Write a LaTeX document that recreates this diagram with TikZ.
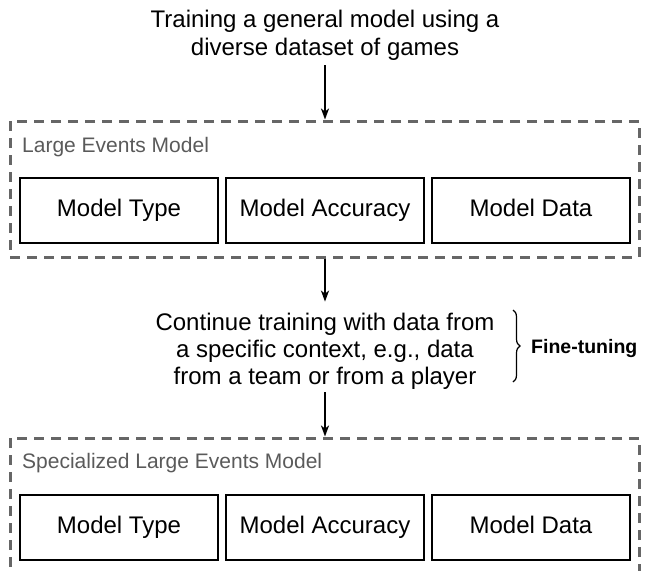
\documentclass[tikz,border=0pt]{standalone}
\usepackage{fontspec}
\setmainfont{Liberation Sans}
\usetikzlibrary{arrows.meta,decorations.pathreplacing}
\definecolor{dashgray}{HTML}{666666}
\definecolor{labelgray}{HTML}{5A5A5A}
\begin{document}
\begin{tikzpicture}[x=1pt,y=-1pt,
 outerbox/.style={draw=dashgray, line width=3pt, dash pattern=on 10pt off 7pt, minimum width=629pt, minimum height=136pt, inner sep=0pt},
 innerbox/.style={draw=black, line width=1.8pt, minimum width=198pt, minimum height=65pt, inner sep=0pt, text height=17pt, text depth=5pt, font=\fontsize{24}{28}\selectfont},
 grouplabel/.style={text=labelgray, font=\fontsize{21}{25}\selectfont, anchor=west, inner sep=0pt},
 stepnote/.style={align=center, inner sep=0pt},
 arr/.style={line width=1.8pt, -{Stealth[length=11pt,width=8pt,inset=3pt]}},
 bracestyle/.style={decorate, decoration={brace, amplitude=7pt}, line width=1.2pt}
]
\useasboundingbox (0,0) rectangle (649,571);
% top text
\node[stepnote, font=\fontsize{24}{28}\selectfont] (train) at (325,35) {Training a general model using a\\diverse dataset of games};
% first group
\node[outerbox] (lem) at (324.5,189) {};
\node[grouplabel] (lemlabel) at (22,147) {Large Events Model};
\node[innerbox] (t1) at (119,210.5) {Model Type};
\node[innerbox] (a1) at (325,210.5) {Model Accuracy};
\node[innerbox] (d1) at (531,210.5) {Model Data};
% middle text
\node[stepnote, font=\fontsize{24}{27}\selectfont] (cont) at (325,351) {Continue training with data from\\a specific context, e.g., data\\from a team or from a player};
\coordinate (bt) at (513,310);
\coordinate (bb) at (513,382);
\draw[bracestyle] (bt) -- (bb);
\node[font=\bfseries\fontsize{19.5}{23}\selectfont, anchor=west, inner sep=0pt] (ft) at (531,348) {Fine-tuning};
% second group
\node[outerbox] (slem) at (324.5,506) {};
\node[grouplabel] (slemlabel) at (22,463) {Specialized Large Events Model};
\node[innerbox] (t2) at (119,527.5) {Model Type};
\node[innerbox] (a2) at (325,527.5) {Model Accuracy};
\node[innerbox] (d2) at (531,527.5) {Model Data};
% arrows
\draw[arr, shorten <=5pt] (train.south) -- (train.south |- lem.north);
\draw[arr, shorten >=11pt] (lem.south -| cont.north) -- (cont.north);
\draw[arr, shorten <=3pt] (cont.south) -- (cont.south |- slem.north);
\end{tikzpicture}
\end{document}
